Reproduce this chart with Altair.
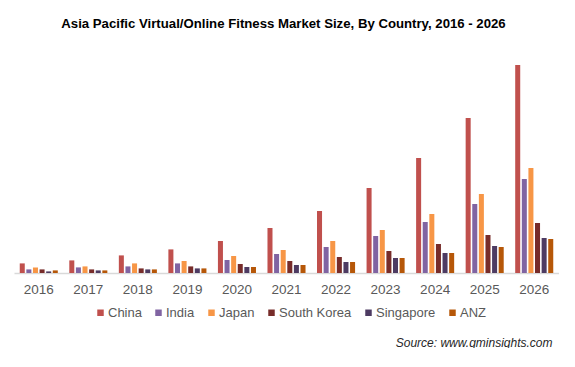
import altair as alt
import pandas as pd

years = ["2016", "2017", "2018", "2019", "2020", "2021", "2022", "2023", "2024", "2025", "2026"]
countries = ["China", "India", "Japan", "South Korea", "Singapore", "ANZ"]
colors = ["#C0504D", "#8064A2", "#F79646", "#772C2A", "#4D3B62", "#B65708"]

china = [9.6, 12.6, 17.6, 23.6, 32, 45, 62, 85, 115, 155, 208]
india = [3.6, 5.6, 6.6, 9.6, 13, 19, 26, 37, 51, 69, 94]
japan = [5.6, 6.6, 9.6, 12, 17, 23, 32, 43, 59, 79, 105]
south_korea = [3.6, 3.6, 4.6, 6.6, 9, 12, 16, 22, 29, 38, 50]
singapore = [1.6, 2.6, 3.6, 4.6, 6, 8, 11, 15, 20, 27, 35]
anz = [2.6, 2.6, 3.6, 4.6, 6, 8, 11, 15, 20, 26, 34]

series = [china, india, japan, south_korea, singapore, anz]
rows = []
for name, vals in zip(countries, series):
    for yr, v in zip(years, vals):
        rows.append({"year": yr, "country": name, "value": v})
df = pd.DataFrame(rows)

FONT = "Liberation Sans"

chart = alt.Chart(df).mark_bar().encode(
    x=alt.X(
        "year:N",
        sort=years,
        scale=alt.Scale(paddingInner=0.232, paddingOuter=0.116),
        axis=alt.Axis(
            title="Source: www.gminsights.com",
            titleFont=FONT,
            titleFontSize=12,
            titleFontStyle="italic",
            titleFontWeight="normal",
            titleColor="#262626",
            titleX=538,
            titleY=73,
            titleAlign="right",
            titleBaseline="alphabetic",
            labelAngle=0,
            labelFont=FONT,
            labelFontSize=13.5,
            labelColor="#595959",
            labelBaseline="alphabetic",
            labelPadding=20,
            ticks=False,
            tickSize=0,
            domainColor="#D9D9D9",
            domainWidth=1.5,
            grid=False,
        ),
    ),
    xOffset=alt.XOffset("country:N", sort=countries,
                        scale=alt.Scale(paddingInner=0.24, paddingOuter=0)),
    y=alt.Y("value:Q", scale=alt.Scale(domain=[0, 220], nice=False), axis=None),
    color=alt.Color(
        "country:N",
        sort=countries,
        scale=alt.Scale(domain=countries, range=colors),
        legend=alt.Legend(
            title=None,
            orient="none",
            legendX=80,
            legendY=253,
            direction="horizontal",
            columns=6,
            symbolType="square",
            symbolSize=42,
            symbolStrokeWidth=0,
            labelFont=FONT,
            labelFontSize=13,
            labelColor="#595959",
            labelOffset=1,
            columnPadding=10,
            padding=0,
        ),
    ),
).properties(
    width=545,
    height=220,
    background="white",
    padding={"left": 6, "top": 8, "right": 0, "bottom": 0},
    title=alt.Title(
        "Asia Pacific Virtual/Online Fitness Market Size, By Country, 2016 - 2026",
        font=FONT,
        fontSize=13.2,
        fontWeight="bold",
        color="#000000",
        anchor="middle",
        offset=22,
        dx=-3,
    ),
).configure_view(stroke=None)

chart.save("out.html", embed_options={"renderer": "svg", "actions": False})
